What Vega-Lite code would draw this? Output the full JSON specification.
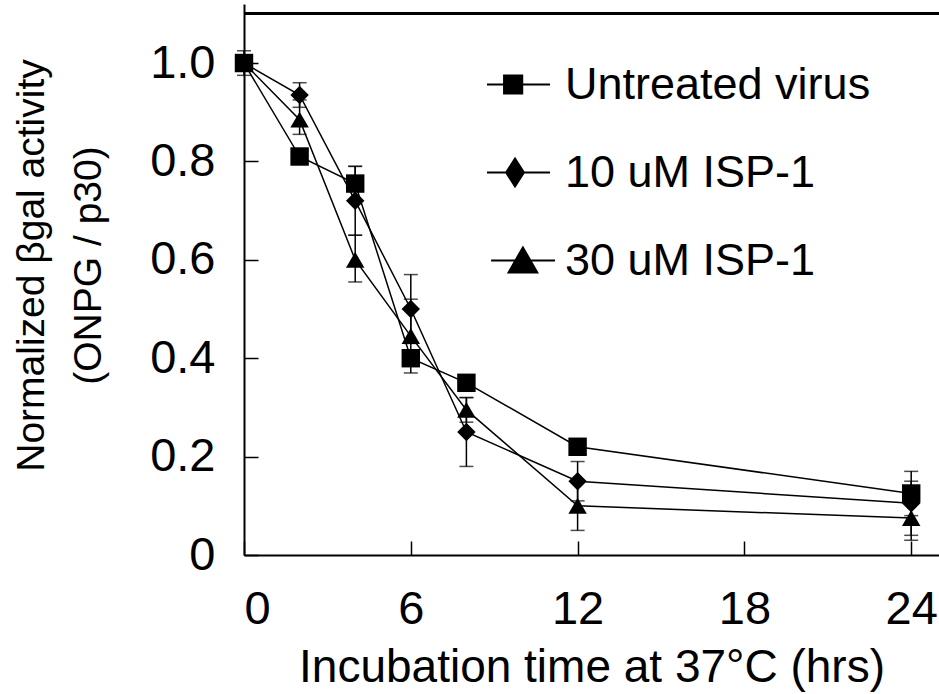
{
  "$schema": "https://vega.github.io/schema/vega-lite/v6.json",
  "width": 695,
  "height": 551,
  "autosize": {"type": "none"},
  "padding": {"left": 244, "top": 4, "right": 0, "bottom": 139},
  "background": "white",
  "config": {
    "view": {"stroke": null},
    "font": "Liberation Sans",
    "axis": {
      "domainColor": "black",
      "domainWidth": 2,
      "tickColor": "black",
      "tickWidth": 1.5,
      "tickSize": -14,
      "grid": false,
      "labelColor": "black",
      "labelFont": "Liberation Sans",
      "labelFontSize": 47,
      "titleColor": "black",
      "titleFont": "Liberation Sans",
      "titleFontWeight": "normal"
    },
    "legend": {
      "orient": "none",
      "legendX": 243,
      "legendY": 49,
      "padding": 0,
      "symbolSize": 3969,
      "rowPadding": 33,
      "labelOffset": 15,
      "labelFont": "Liberation Sans",
      "labelFontSize": 45,
      "labelColor": "black",
      "labelLimit": 500,
      "symbolFillColor": "black",
      "symbolStrokeWidth": 0,
      "symbolOpacity": 1,
      "title": null
    }
  },
  "data": {
    "values": [
      {"t": 0, "v": 1.0, "s": "Untreated virus", "lo": 0.975, "hi": 1.025},
      {"t": 2, "v": 0.81, "s": "Untreated virus", "lo": null, "hi": null},
      {"t": 4, "v": 0.755, "s": "Untreated virus", "lo": 0.72, "hi": 0.79},
      {"t": 6, "v": 0.4, "s": "Untreated virus", "lo": 0.385, "hi": 0.415},
      {"t": 8, "v": 0.35, "s": "Untreated virus", "lo": 0.335, "hi": 0.365},
      {"t": 12, "v": 0.22, "s": "Untreated virus", "lo": null, "hi": null},
      {"t": 24, "v": 0.125, "s": "Untreated virus", "lo": 0.08, "hi": 0.17},
      {"t": 0, "v": 1.0, "s": "10 uM ISP-1", "lo": null, "hi": null},
      {"t": 2, "v": 0.935, "s": "10 uM ISP-1", "lo": 0.91, "hi": 0.96},
      {"t": 4, "v": 0.72, "s": "10 uM ISP-1", "lo": 0.65, "hi": 0.79},
      {"t": 6, "v": 0.5, "s": "10 uM ISP-1", "lo": 0.43, "hi": 0.57},
      {"t": 8, "v": 0.25, "s": "10 uM ISP-1", "lo": 0.18, "hi": 0.32},
      {"t": 12, "v": 0.15, "s": "10 uM ISP-1", "lo": 0.11, "hi": 0.19},
      {"t": 24, "v": 0.105, "s": "10 uM ISP-1", "lo": 0.03, "hi": 0.15},
      {"t": 0, "v": 1.0, "s": "30 uM ISP-1", "lo": null, "hi": null},
      {"t": 2, "v": 0.885, "s": "30 uM ISP-1", "lo": 0.855, "hi": 0.925},
      {"t": 4, "v": 0.6, "s": "30 uM ISP-1", "lo": 0.555, "hi": 0.65},
      {"t": 6, "v": 0.445, "s": "30 uM ISP-1", "lo": 0.37, "hi": 0.52},
      {"t": 8, "v": 0.295, "s": "30 uM ISP-1", "lo": 0.27, "hi": 0.32},
      {"t": 12, "v": 0.1, "s": "30 uM ISP-1", "lo": 0.05, "hi": 0.15},
      {"t": 24, "v": 0.075, "s": "30 uM ISP-1", "lo": 0.04, "hi": 0.11}
    ]
  },
  "layer": [
    {
      "mark": {"type": "rule", "color": "black", "strokeWidth": 2},
      "encoding": {"y": {"datum": 1.1, "type": "quantitative"}}
    },
    {
      "mark": {"type": "line", "color": "black", "strokeWidth": 1.5},
      "encoding": {
        "x": {
          "field": "t", "type": "quantitative",
          "scale": {"domain": [0, 25], "nice": false, "zero": false},
          "title": "Incubation time at 37°C (hrs)",
          "axis": {
            "values": [0, 6, 12, 18, 24],
            "labelPadding": 45,
            "labelFlush": true,
            "titleFontSize": 46,
            "titleBaseline": "top",
            "titleY": 90
          }
        },
        "y": {
          "field": "v", "type": "quantitative",
          "scale": {"domain": [0, 1.12], "nice": false},
          "title": ["Normalized βgal activity", "(ONPG / p30)"],
          "axis": {
            "values": [0, 0.2, 0.4, 0.6, 0.8, 1.0],
            "labelExpr": "datum.value == 0 ? '0' : format(datum.value, '.1f')",
            "labelPadding": 43,
            "titleFontSize": 39,
            "titleLineHeight": 57,
            "titleAngle": -90,
            "titleBaseline": "top",
            "titleAlign": "center",
            "titleX": -232,
            "titleY": 261
          }
        },
        "detail": {"field": "s"}
      }
    },
    {
      "transform": [{"filter": "datum.lo != null"}],
      "mark": {"type": "errorbar", "color": "black", "thickness": 1.5, "ticks": {"size": 14, "color": "black", "thickness": 1.5}},
      "encoding": {
        "x": {"field": "t", "type": "quantitative", "title": "Incubation time at 37°C (hrs)"},
        "y": {"field": "lo", "type": "quantitative", "title": ["Normalized βgal activity", "(ONPG / p30)"]},
        "y2": {"field": "hi"},
        "detail": {"field": "s"}
      }
    },
    {
      "mark": {"type": "point", "filled": true, "color": "black", "size": 340, "opacity": 1},
      "encoding": {
        "x": {"field": "t", "type": "quantitative", "title": "Incubation time at 37°C (hrs)"},
        "y": {"field": "v", "type": "quantitative", "title": ["Normalized βgal activity", "(ONPG / p30)"]},
        "shape": {
          "field": "s", "type": "nominal",
          "scale": {"domain": ["Untreated virus", "10 uM ISP-1", "30 uM ISP-1"], "range": ["square", "diamond", "triangle-up"]},
          "legend": null
        }
      }
    },
    {
      "mark": {"type": "point", "filled": true, "color": "black", "opacity": 0},
      "encoding": {
        "x": {"field": "t", "type": "quantitative", "title": "Incubation time at 37°C (hrs)"},
        "y": {"field": "v", "type": "quantitative", "title": ["Normalized βgal activity", "(ONPG / p30)"]},
        "shape": {
          "field": "s", "type": "nominal",
          "scale": {
            "domain": ["Untreated virus", "10 uM ISP-1", "30 uM ISP-1"],
            "range": [
              "M-1,-0.032H1V0.032H-1ZM-0.49,-0.32H0.15V0.32H-0.49Z",
              "M-1,-0.032H1V0.032H-1ZM-0.11,-0.5L0.21,0L-0.11,0.5L-0.43,0Z",
              "M-0.87,-0.032H1.16V0.032H-0.87ZM0.14,-0.48L0.65,0.41H-0.37Z"
            ]
          },
          "legend": {
            "symbolOpacity": 1,
            "encode": {
              "symbols": {
                "update": {
                  "fill": {"value": "black"},
                  "fillOpacity": {"value": 1},
                  "opacity": {"value": 1}
                }
              }
            }
          }
        }
      }
    }
  ],
  "resolve": {"scale": {"shape": "independent"}}
}
